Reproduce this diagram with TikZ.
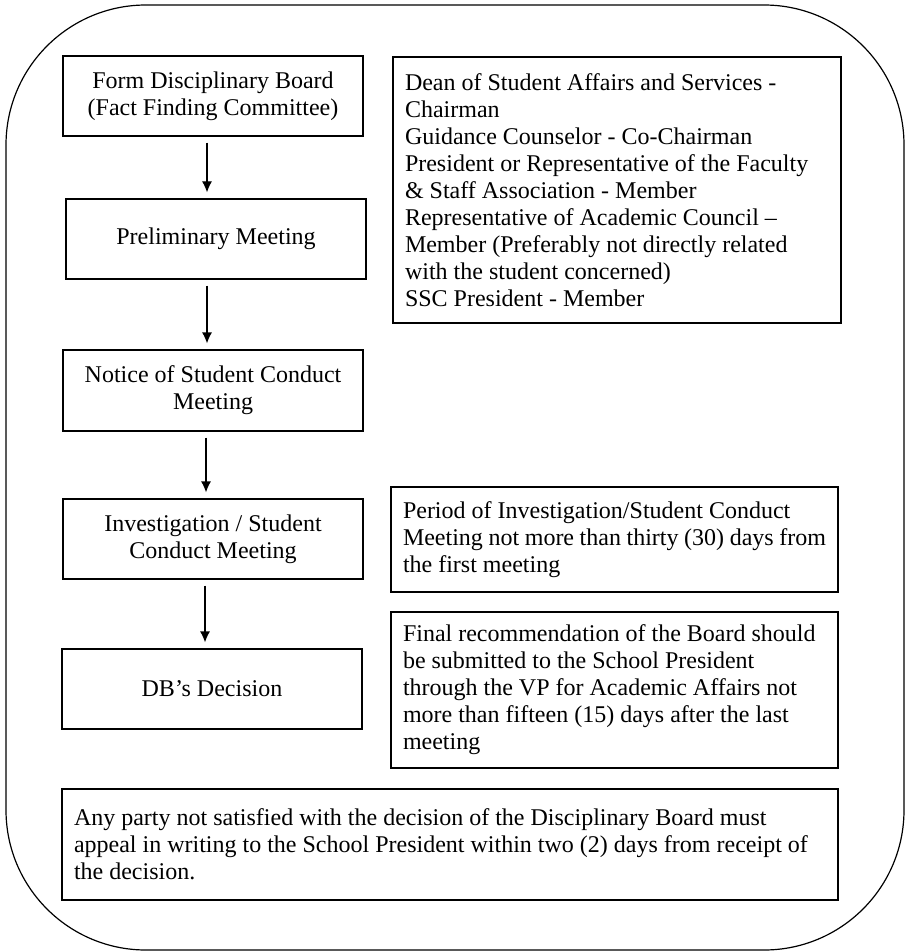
\documentclass[tikz,border=0pt]{standalone}
\usepackage{fontspec}
\setmainfont{Liberation Serif}
\usetikzlibrary{arrows.meta}

\begin{document}
\begin{tikzpicture}[>={Latex[length=5.5pt,width=5pt]},x=0.5pt,y=-0.5pt,
  font=\fontsize{12}{13.5}\selectfont,
  stepbox/.style={draw,line width=0.6pt,minimum width=150pt,minimum height=40pt,align=center,inner sep=0pt},
  notebox/.style={draw,line width=0.6pt,align=flush left,inner xsep=6pt,inner ysep=0pt},
  flow/.style={->,line width=0.6pt,shorten <=3pt,shorten >=3pt}]
\useasboundingbox (0,0) rectangle (906,952);
\draw[line width=0.6pt,rounded corners=70pt] (6,5) rectangle (904,950);

\node[stepbox] (form) at (213,96) {Form Disciplinary Board\\(Fact Finding Committee)};
\node[stepbox] (prelim) at (216,239) {Preliminary Meeting};
\node[stepbox,minimum height=40.5pt] (notice) at (213,390.5) {Notice of Student Conduct\\Meeting};
\node[stepbox] (invest) at (213,539) {Investigation / Student\\Conduct Meeting};
\node[stepbox] (decision) at (212,689) {DB’s Decision};

\node[notebox,text width=212pt,minimum height=133pt] (members) at (617,190) {Dean of Student Affairs and Services -\\
Chairman\\
Guidance Counselor - Co-Chairman\\
President or Representative of the Faculty\\
\& Staff Association - Member\\
Representative of Academic Council –\\
Member (Preferably not directly related\\
with the student concerned)\\
SSC President - Member};
\node[notebox,text width=211.5pt,minimum height=52.5pt] (period) at (614.5,539.5) {Period of Investigation/Student Conduct\\
Meeting not more than thirty (30) days from\\
the first meeting};
\node[notebox,text width=211.5pt,minimum height=78pt] (final) at (614.5,690) {Final recommendation of the Board should\\
be submitted to the School President\\
through the VP for Academic Affairs not\\
more than fifteen (15) days after the last\\
meeting};
\node[notebox,text width=376pt,minimum height=55.5pt] (appeal) at (450,844.5) {Any party not satisfied with the decision of the Disciplinary Board must\\
appeal in writing to the School President within two (2) days from receipt of\\
the decision.};

\draw[flow] ([xshift=-3pt]form.south) -- ([xshift=-3pt]form.south |- prelim.north);
\draw[flow] ([xshift=-4.5pt]prelim.south) -- ([xshift=-4.5pt]prelim.south |- notice.north);
\draw[flow] ([xshift=-3.5pt]notice.south) -- ([xshift=-3.5pt]notice.south |- invest.north);
\draw[flow] ([xshift=-4pt]invest.south) -- ([xshift=-4pt]invest.south |- decision.north);
\end{tikzpicture}
\end{document}
